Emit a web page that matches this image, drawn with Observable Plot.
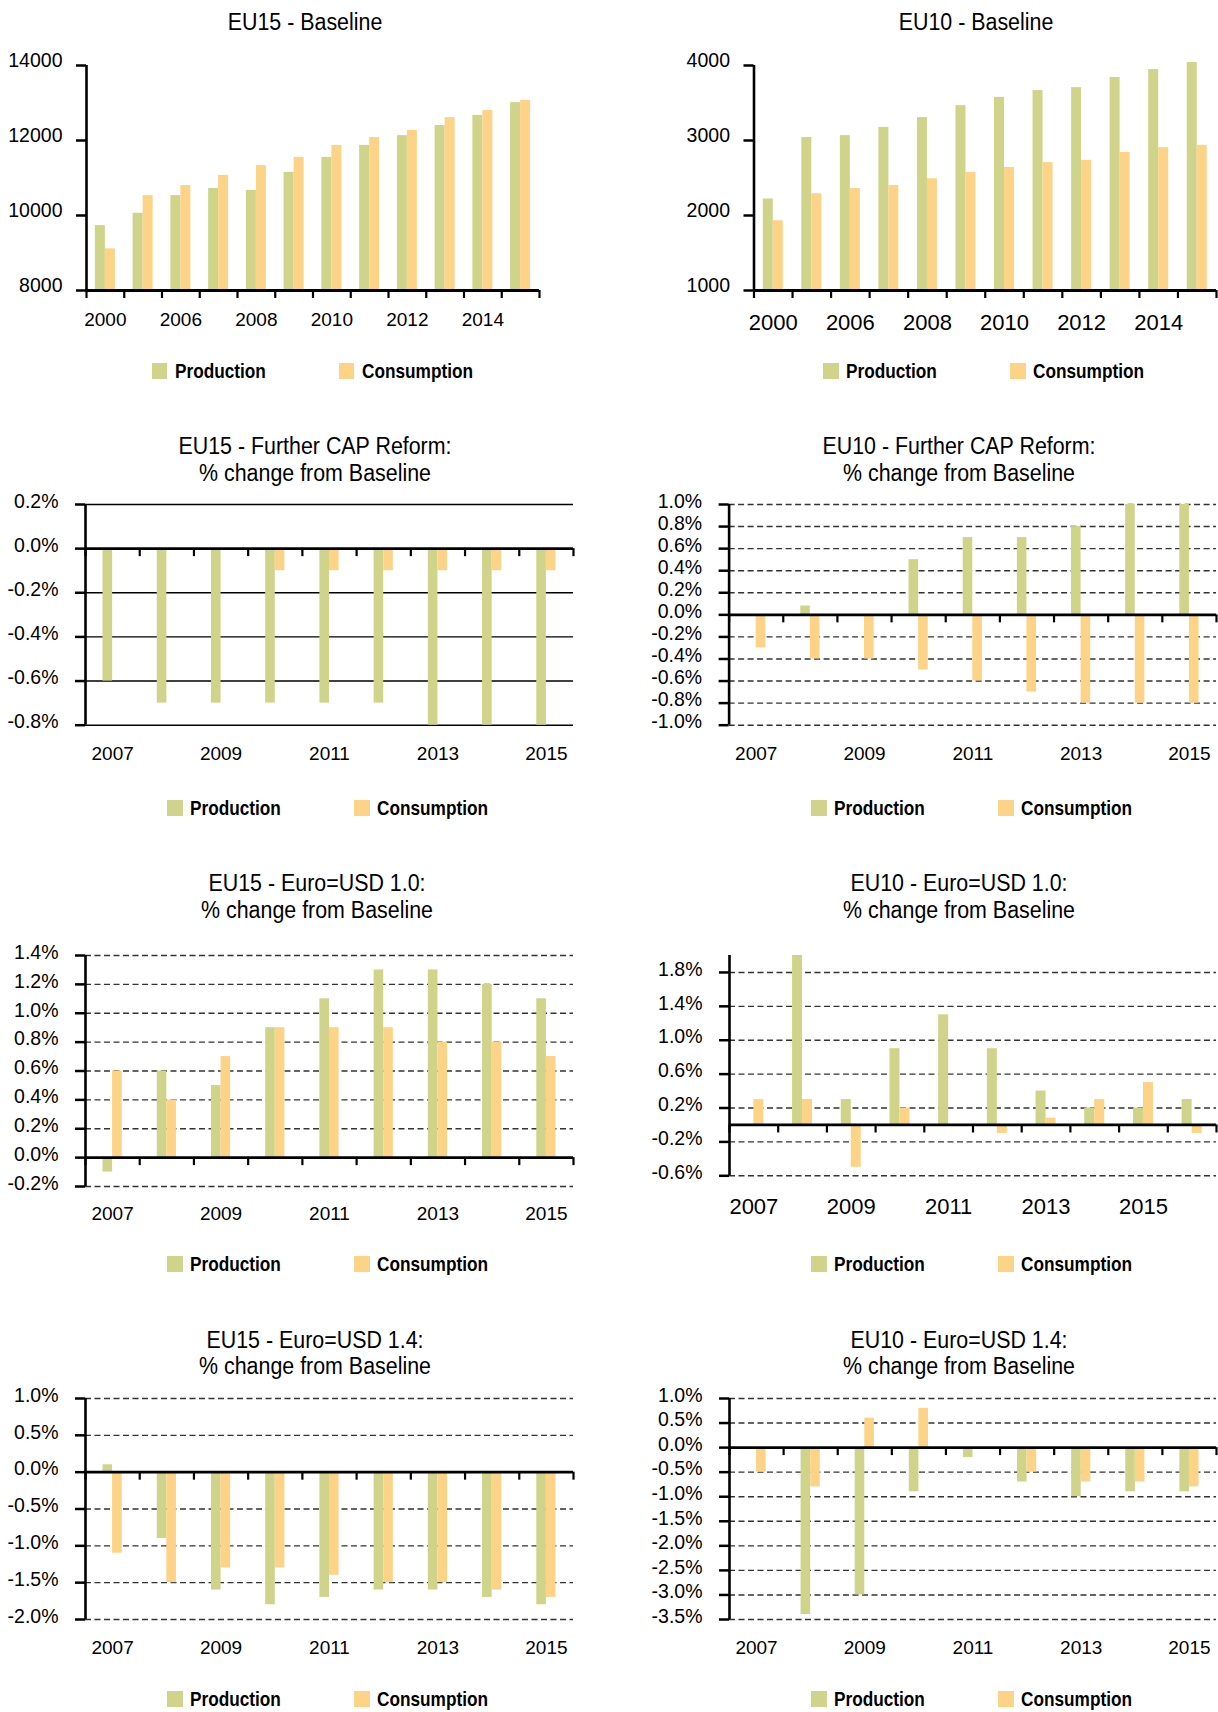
<!DOCTYPE html>
<html>
<head>
<meta charset="utf-8">
<script src="https://cdn.jsdelivr.net/npm/d3@7"></script>
<script src="https://cdn.jsdelivr.net/npm/@observablehq/plot@0.6"></script>
<style>
  html, body { margin: 0; padding: 0; background: #fff; }
  #root { position: relative; width: 1218px; height: 1712px; background: #fff; overflow: hidden; }
  #root svg { position: absolute; overflow: visible; }
  #root svg g[aria-label="y-axis tick"], #root svg g[aria-label="y-axis"] .tick line { stroke-width: 2.5px; stroke: #000; }
  .title { position: absolute; width: 600px; text-align: center; font-family: "Liberation Sans", Arial, sans-serif; font-size: 23px; line-height: 26.6px; color: #000; white-space: pre; transform: scaleX(0.93); transform-origin: center top; }
  .legend { position: absolute; height: 16px; display: flex; align-items: center; }
  .legend .item { width: 187px; display: flex; align-items: center; }
  .legend .sw { width: 15.5px; height: 16px; margin-right: 7.5px; flex: none; }
  .legend .lab { display: inline-block; font-family: "Liberation Sans", Arial, sans-serif; font-weight: bold; font-size: 21px; line-height: 16px; color: #000; transform: scaleX(0.82); transform-origin: left center; white-space: nowrap; }
</style>
</head>
<body>
<div id="root"></div>
<script>
// ---------------- data ----------------
const seriesNames = ["Production", "Consumption"];
const seriesColors = ["#D0D48A", "#FDD387"];

const baselineYears = ["2000", "2005", "2006", "2007", "2008", "2009", "2010", "2011", "2012", "2013", "2014", "2015"];
const scenarioYears = ["2007", "2008", "2009", "2010", "2011", "2012", "2013", "2014", "2015"];
const scenarioYears10 = ["2007", "2008", "2009", "2010", "2011", "2012", "2013", "2014", "2015", ""];

// EU15 - Baseline
const eu15BaseProd = [9730, 10060, 10530, 10720, 10670, 11150, 11550, 11870, 12130, 12400, 12670, 13010];
const eu15BaseCons = [9110, 10530, 10800, 11070, 11330, 11550, 11870, 12080, 12270, 12610, 12800, 13070];
// EU10 - Baseline
const eu10BaseProd = [2220, 3040, 3065, 3175, 3305, 3465, 3575, 3665, 3705, 3840, 3945, 4040];
const eu10BaseCons = [1930, 2290, 2360, 2400, 2490, 2575, 2640, 2705, 2735, 2840, 2905, 2935];
// EU15 - Further CAP Reform (% change)
const eu15CapProd = [-0.6, -0.7, -0.7, -0.7, -0.7, -0.7, -0.8, -0.8, -0.8];
const eu15CapCons = [0, 0, 0, -0.1, -0.1, -0.1, -0.1, -0.1, -0.1];
// EU10 - Further CAP Reform
const eu10CapProd = [0, 0.08, 0, 0.5, 0.7, 0.7, 0.8, 1.0, 1.0];
const eu10CapCons = [-0.3, -0.4, -0.4, -0.5, -0.6, -0.7, -0.8, -0.8, -0.8];
// EU15 - Euro=USD 1.0
const eu15Usd10Prod = [-0.1, 0.6, 0.5, 0.9, 1.1, 1.3, 1.3, 1.2, 1.1];
const eu15Usd10Cons = [0.6, 0.4, 0.7, 0.9, 0.9, 0.9, 0.8, 0.8, 0.7];
// EU10 - Euro=USD 1.0
const eu10Usd10Prod = [0, 2.0, 0.3, 0.9, 1.3, 0.9, 0.4, 0.2, 0.2, 0.3];
const eu10Usd10Cons = [0.3, 0.3, -0.5, 0.2, 0, -0.1, 0.08, 0.3, 0.5, -0.1];
// EU15 - Euro=USD 1.4
const eu15Usd14Prod = [0.1, -0.9, -1.6, -1.8, -1.7, -1.6, -1.6, -1.7, -1.8];
const eu15Usd14Cons = [-1.1, -1.5, -1.3, -1.3, -1.4, -1.5, -1.5, -1.6, -1.7];
// EU10 - Euro=USD 1.4
const eu10Usd14Prod = [0, -3.4, -3.0, -0.9, -0.2, -0.7, -1.0, -0.9, -0.9];
const eu10Usd14Cons = [-0.5, -0.8, 0.6, 0.8, 0, -0.5, -0.7, -0.7, -0.8];

// tick values
const ticksEU15Base = [8000, 10000, 12000, 14000];
const ticksEU10Base = [1000, 2000, 3000, 4000];
const ticksEU15Cap = [-0.8, -0.6, -0.4, -0.2, 0, 0.2];
const ticksEU10Cap = [-1.0, -0.8, -0.6, -0.4, -0.2, 0, 0.2, 0.4, 0.6, 0.8, 1.0];
const ticksEU15Usd10 = [-0.2, 0, 0.2, 0.4, 0.6, 0.8, 1.0, 1.2, 1.4];
const ticksEU10Usd10 = [-0.6, -0.2, 0.2, 0.6, 1.0, 1.4, 1.8];
const ticksEU15Usd14 = [-2.0, -1.5, -1.0, -0.5, 0, 0.5, 1.0];
const ticksEU10Usd14 = [-3.5, -3.0, -2.5, -2.0, -1.5, -1.0, -0.5, 0, 0.5, 1.0];

const titleEU15Base = "EU15 - Baseline";
const titleEU10Base = "EU10 - Baseline";
const titleEU15Cap = "EU15 - Further CAP Reform:\n% change from Baseline";
const titleEU10Cap = "EU10 - Further CAP Reform:\n% change from Baseline";
const titleEU15Usd10 = "EU15 - Euro=USD 1.0:\n% change from Baseline";
const titleEU10Usd10 = "EU10 - Euro=USD 1.0:\n% change from Baseline";
const titleEU15Usd14 = "EU15 - Euro=USD 1.4:\n% change from Baseline";
const titleEU10Usd14 = "EU10 - Euro=USD 1.4:\n% change from Baseline";

// ---------------- layout ----------------
const pct = d => d.toFixed(1) + "%";
const int = d3.format("d");

const panels = [
  {title: titleEU15Base, cats: baselineYears, prod: eu15BaseProd, cons: eu15BaseCons, ticks: ticksEU15Base, fmt: int,
   domain: [8000, 14000], base: 8000, grid: "none", col: 0, axisX: 86, right: 539, top: 65, bottom: 290,
   yDx: -24, yDy: -5, labelDy: 29, labelSize: 19, barPx: 10, titleX: 305, titleTop: 8.7, legendLeft: 151.5, legendCY: 371},
  {title: titleEU10Base, cats: baselineYears, prod: eu10BaseProd, cons: eu10BaseCons, ticks: ticksEU10Base, fmt: int,
   domain: [1000, 4000], base: 1000, grid: "none", col: 1, axisX: 753.5, right: 1216, top: 65, bottom: 290,
   yDx: -24, yDy: -5, labelDy: 32, labelSize: 22, barPx: 10, titleX: 976, titleTop: 8.7, legendLeft: 823, legendCY: 371},
  {title: titleEU15Cap, cats: scenarioYears, prod: eu15CapProd, cons: eu15CapCons, ticks: ticksEU15Cap, fmt: pct,
   domain: [-0.8, 0.2], base: 0, grid: "solid", col: 0, axisX: 85, right: 573, top: 504.3, bottom: 725,
   yDx: -27, yDy: -3, labelDy: 28.3, labelSize: 19, barPx: 9.6, titleX: 314.6, titleTop: 433.4, legendLeft: 167, legendCY: 807.7},
  {title: titleEU10Cap, cats: scenarioYears, prod: eu10CapProd, cons: eu10CapCons, ticks: ticksEU10Cap, fmt: pct,
   domain: [-1.0, 1.0], base: 0, grid: "dash", col: 1, axisX: 728.6, right: 1216, top: 504.3, bottom: 725,
   yDx: -27, yDy: -3, labelDy: 28.3, labelSize: 19, barPx: 9.6, titleX: 958.5, titleTop: 433.4, legendLeft: 811, legendCY: 807.7},
  {title: titleEU15Usd10, cats: scenarioYears, prod: eu15Usd10Prod, cons: eu15Usd10Cons, ticks: ticksEU15Usd10, fmt: pct,
   domain: [-0.2, 1.4], base: 0, grid: "dash", col: 0, axisX: 85, right: 573, top: 955, bottom: 1186,
   yDx: -27, yDy: -3, labelDy: 27.3, labelSize: 19, barPx: 9.6, titleX: 316.5, titleTop: 870, legendLeft: 167, legendCY: 1264.3},
  {title: titleEU10Usd10, cats: scenarioYears10, prod: eu10Usd10Prod, cons: eu10Usd10Cons, ticks: ticksEU10Usd10, fmt: pct,
   domain: [-0.6, 2.0], base: 0, grid: "dash", col: 1, axisX: 729, right: 1216, top: 955, bottom: 1175.3,
   yDx: -27, yDy: -3, labelDy: 31.4, labelSize: 22, barPx: 10, titleX: 958.5, titleTop: 870, legendLeft: 811, legendCY: 1264.3},
  {title: titleEU15Usd14, cats: scenarioYears, prod: eu15Usd14Prod, cons: eu15Usd14Cons, ticks: ticksEU15Usd14, fmt: pct,
   domain: [-2.0, 1.0], base: 0, grid: "dash", col: 0, axisX: 85, right: 573, top: 1398.3, bottom: 1619.3,
   yDx: -27, yDy: -3, labelDy: 28, labelSize: 19, barPx: 9.6, titleX: 315, titleTop: 1326.7, legendLeft: 167, legendCY: 1699.3},
  {title: titleEU10Usd14, cats: scenarioYears, prod: eu10Usd14Prod, cons: eu10Usd14Cons, ticks: ticksEU10Usd14, fmt: pct,
   domain: [-3.5, 1.0], base: 0, grid: "dash", col: 1, axisX: 729, right: 1216, top: 1398.3, bottom: 1619.3,
   yDx: -27, yDy: -3, labelDy: 28, labelSize: 19, barPx: 9.6, titleX: 958.5, titleTop: 1326.7, legendLeft: 811, legendCY: 1699.3}
];

const root = document.getElementById("root");

for (const p of panels) {
  const colLeft = p.col === 0 ? 0 : 609;
  const W = 609;
  const n = p.cats.length;
  const mT = 20, mB = 50;
  const mL = p.axisX - colLeft;
  const mR = colLeft + W - p.right;
  const H = p.bottom - p.top + mT + mB;
  const bandPx = (p.right - p.axisX) / n;
  const w = p.barPx / bandPx;

  const rows = [];
  p.cats.forEach((c, i) => {
    rows.push({i, s: seriesNames[0], v: p.prod[i], x1: i + 0.5 - w, x2: i + 0.5});
    rows.push({i, s: seriesNames[1], v: p.cons[i], x1: i + 0.5, x2: i + 0.5 + w});
  });
  const bars = rows.filter(d => d.v !== 0);
  const bounds = d3.range(n + 1);
  const labels = p.cats.map((c, i) => ({i, c})).filter(d => d.i % 2 === 0 && d.c !== "");
  const gridVals = p.ticks.filter(t => t !== p.base);

  const marks = [];
  if (p.grid === "dash") {
    marks.push(Plot.ruleY(gridVals, {y: d => d, stroke: "#333", strokeWidth: 1.4, strokeDasharray: "6,3.5"}));
  } else if (p.grid === "solid") {
    marks.push(Plot.ruleY(gridVals, {y: d => d, stroke: "#000", strokeWidth: 1.4}));
  }
  marks.push(
    Plot.rect(bars, {x1: "x1", x2: "x2", y1: () => p.base, y2: "v", fill: "s"}),
    Plot.ruleY([p.base], {y: d => d, stroke: "#000", strokeWidth: 2.8}),
    Plot.ruleX(bounds, {x: d => d, y1: () => p.base, y2: () => p.base, insetBottom: -8, stroke: "#000", strokeWidth: 2.2}),
    Plot.ruleX([0], {x: d => d, stroke: "#000", strokeWidth: 2.6}),
    Plot.text(p.ticks, {y: d => d, text: p.fmt, frameAnchor: "left", textAnchor: "end", lineAnchor: "middle", dx: p.yDx, dy: p.yDy, fontSize: 19.5, fill: "#000"}),
    Plot.text(labels, {x: d => d.i + 0.5, text: d => d.c, frameAnchor: "bottom", lineAnchor: "middle", dy: p.labelDy, fontSize: p.labelSize, fill: "#000"})
  );

  const svg = Plot.plot({
    width: W, height: H,
    marginLeft: mL, marginRight: mR, marginTop: mT, marginBottom: mB,
    x: {domain: [0, n], axis: null},
    y: {domain: p.domain, ticks: p.ticks, tickFormat: () => "", tickSize: 10, tickPadding: 0, label: null},
    color: {domain: seriesNames, range: seriesColors},
    style: {fontFamily: "'Liberation Sans', Arial, sans-serif", fontSize: "19px", color: "#000", background: "transparent", overflow: "visible"},
    marks
  });
  svg.style.left = colLeft + "px";
  svg.style.top = (p.top - mT) + "px";
  root.appendChild(svg);

  const t = document.createElement("div");
  t.className = "title";
  t.textContent = p.title;
  t.style.left = (p.titleX - 300) + "px";
  t.style.top = p.titleTop + "px";
  root.appendChild(t);

  const leg = document.createElement("div");
  leg.className = "legend";
  leg.style.left = p.legendLeft + "px";
  leg.style.top = (p.legendCY - 8) + "px";
  seriesNames.forEach((s, k) => {
    const item = document.createElement("div");
    item.className = "item";
    const sw = document.createElement("div");
    sw.className = "sw";
    sw.style.background = seriesColors[k];
    const lab = document.createElement("span");
    lab.className = "lab";
    lab.textContent = s;
    item.appendChild(sw);
    item.appendChild(lab);
    leg.appendChild(item);
  });
  root.appendChild(leg);
}
</script>
</body>
</html>
